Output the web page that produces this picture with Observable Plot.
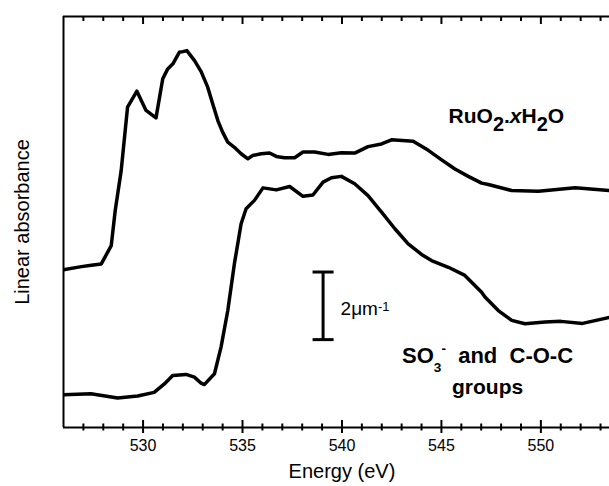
<!DOCTYPE html>
<html>
<head>
<meta charset="utf-8">
<script src="https://cdn.jsdelivr.net/npm/d3@7"></script>
<script src="https://cdn.jsdelivr.net/npm/@observablehq/plot@0.6"></script>
<style>
html, body { margin: 0; padding: 0; background: #fff; }
</style>
</head>
<body>
<div id="chart"></div>
<script>
// RuO2.xH2O spectrum (Energy in eV, linear absorbance in µm^-1, arbitrary offset)
const ruEnergy = [526.0, 526.9, 527.4, 527.9, 528.4, 528.6, 528.9, 529.22, 529.69, 530.15, 530.65, 530.99, 531.24, 531.5, 531.82, 532.0, 532.2, 532.58, 532.92, 533.25, 533.5, 533.76, 534.0, 534.26, 534.59, 534.93, 535.27, 535.52, 535.94, 536.36, 536.7, 537.11, 537.62, 538.04, 538.63, 539.3, 539.97, 540.64, 541.31, 541.99, 542.49, 543.58, 544.34, 545.01, 545.68, 546.35, 547.02, 547.36, 548.53, 549.88, 551.72, 553.45];
const ruAbs    = [4.67, 4.76, 4.80, 4.84, 5.38, 6.42, 7.60, 9.48, 9.95, 9.38, 9.16, 10.32, 10.61, 10.76, 11.10, 11.12, 11.15, 10.86, 10.53, 10.07, 9.58, 9.08, 8.74, 8.44, 8.29, 8.10, 7.95, 8.05, 8.10, 8.12, 8.02, 7.98, 7.98, 8.15, 8.15, 8.08, 8.13, 8.12, 8.31, 8.39, 8.51, 8.47, 8.20, 7.92, 7.65, 7.43, 7.23, 7.19, 7.01, 6.99, 7.09, 7.01];

// SO3- and C-O-C groups spectrum
const soEnergy = [526.0, 527.38, 528.72, 529.73, 530.56, 531.07, 531.49, 532.16, 532.58, 532.92, 533.08, 533.59, 533.92, 534.26, 534.59, 534.93, 535.18, 535.6, 536.03, 536.7, 537.37, 538.04, 538.54, 539.05, 539.47, 539.97, 540.64, 541.31, 541.99, 542.66, 543.33, 544.0, 544.5, 545.35, 546.18, 546.52, 547.02, 547.19, 547.86, 548.53, 549.2, 550.21, 551.0, 552.1, 553.45];
const soAbs    = [0.97, 1.00, 0.87, 0.93, 1.04, 1.29, 1.54, 1.57, 1.49, 1.31, 1.27, 1.59, 2.38, 3.46, 4.84, 6.03, 6.47, 6.72, 7.09, 7.03, 7.13, 6.84, 6.88, 7.26, 7.39, 7.43, 7.21, 6.86, 6.37, 5.88, 5.43, 5.12, 4.94, 4.74, 4.50, 4.30, 4.00, 3.86, 3.46, 3.17, 3.07, 3.12, 3.14, 3.08, 3.26];

// Axis
const xDomain = [526, 553.45];
const yDomain = [0, 12.16];
const majorTicks = [530, 535, 540, 545, 550];
const minorTicks = d3.range(527, 554).filter(d => d % 5 !== 0);
const xTitle = "Energy (eV)";
const yTitle = "Linear absorbance";

// Scale bar: 2 µm^-1
const scaleBarEnergy = [539.05];
const scaleBarFrom = [2.6];
const scaleBarTo = [4.6];

// Annotation texts
const ruLabel = "RuO2.xH2O";
const soLabel1 = "SO3- and C-O-C";
const soLabel2 = "groups";
const barLabel = "2μm-1";

const font = "'Liberation Sans', Arial, Helvetica, sans-serif";

const W = 609, H = 486, MT = 16, MB = 59, ML = 63, MR = 0;
const innerH = H - MT - MB;

const ruData = ruEnergy.map((e, i) => ({E: e, A: ruAbs[i]}));
const soData = soEnergy.map((e, i) => ({E: e, A: soAbs[i]}));
const barData = scaleBarEnergy.map((e, i) => ({E: e, from: scaleBarFrom[i], to: scaleBarTo[i]}));
const capData = barData.flatMap(d => [{E: d.E, A: d.from}, {E: d.E, A: d.to}]);

const capSymbol = { draw(ctx) { ctx.moveTo(-10.5, 0); ctx.lineTo(10.5, 0); } };

const plot = Plot.plot({
  width: W,
  height: H,
  marginTop: MT,
  marginBottom: MB,
  marginLeft: ML,
  marginRight: MR,
  style: {fontFamily: font, background: "white", color: "black", overflow: "visible"},
  x: {domain: xDomain, label: null, axis: null},
  y: {domain: yDomain, label: null, axis: null},
  marks: [
    // bottom ticks crossing the axis line
    Plot.ruleX(minorTicks, {x: d => d, insetTop: innerH - 3.5, insetBottom: -3.5, stroke: "black", strokeWidth: 2}),
    Plot.ruleX(majorTicks, {x: d => d, insetTop: innerH - 7, insetBottom: -6, stroke: "black", strokeWidth: 2}),
    // top ticks (inward)
    Plot.ruleX(minorTicks, {x: d => d, insetTop: 0, insetBottom: innerH - 5, stroke: "black", strokeWidth: 2}),
    Plot.ruleX(majorTicks, {x: d => d, insetTop: 0, insetBottom: innerH - 8, stroke: "black", strokeWidth: 2}),
    // tick labels
    Plot.text(majorTicks, {x: d => d, text: d => String(d), frameAnchor: "bottom", lineAnchor: "middle", textAnchor: "middle", dy: 18.6, fontSize: 16, fill: "black"}),
    // frame (left, top, bottom)
    Plot.ruleY([yDomain[1]], {stroke: "black", strokeWidth: 2}),
    Plot.ruleY([yDomain[0]], {stroke: "black", strokeWidth: 2}),
    Plot.ruleX([xDomain[0]], {stroke: "black", strokeWidth: 2}),
    // spectra
    Plot.line(ruData, {x: "E", y: "A", stroke: "black", strokeWidth: 3.5, strokeLinejoin: "round", clip: true}),
    Plot.line(soData, {x: "E", y: "A", stroke: "black", strokeWidth: 3.5, strokeLinejoin: "round", clip: true}),
    // scale bar
    Plot.ruleX(barData, {x: "E", y1: "from", y2: "to", stroke: "black", strokeWidth: 3}),
    Plot.dot(capData, {x: "E", y: "A", symbol: capSymbol, stroke: "black", strokeWidth: 3, r: 5}),
    // annotations
    Plot.text([barLabel], {x: () => 539.93, y: () => 3.52, text: d => d, textAnchor: "start", lineAnchor: "middle", fontSize: 19, fill: "black"}),
    Plot.text([ruLabel], {x: () => 545.36, y: () => 9.2, text: d => d, textAnchor: "start", lineAnchor: "middle", fontSize: 21, fontWeight: "bold", fill: "black"}),
    Plot.text([soLabel1], {x: () => 547.32, y: () => 2.12, text: d => d, textAnchor: "middle", lineAnchor: "middle", fontSize: 22, fontWeight: "bold", fill: "black"}),
    Plot.text([soLabel2], {x: () => 547.32, y: () => 1.20, text: d => d, textAnchor: "middle", lineAnchor: "middle", fontSize: 21, fontWeight: "bold", fill: "black"}),
    // axis titles
    Plot.text([xTitle], {x: () => 540, frameAnchor: "bottom", textAnchor: "middle", lineAnchor: "middle", dy: 44.5, text: d => d, fontSize: 20, fill: "black"}),
    Plot.text([yTitle], {frameAnchor: "left", textAnchor: "middle", lineAnchor: "middle", dx: -41, rotate: -90, text: d => d, fontSize: 20, fill: "black"})
  ]
});

// Rich text: subscripts, superscripts and italics
const rich = {
  [ruLabel]:  {segs: [["RuO"], ["2", "sub"], ["."], ["x", "it"], ["H"], ["2", "sub"], ["O"]], sub: 8, subSize: 0.95},
  [soLabel1]: {segs: [["SO"], ["3", "sub"], ["-", "sup"], ["  and  C-O-C"]], sub: 9, sup: -10, subSize: 0.62, supSize: 0.62},
  [barLabel]: {segs: [["2μm"], ["-1", "sup"]], sup: -4, supSize: 0.68}
};
d3.select(plot).selectAll("text").each(function() {
  const spec = rich[this.textContent];
  if (!spec) return;
  const t = d3.select(this);
  const fs = parseFloat(this.getAttribute("font-size")) || parseFloat(this.parentNode.getAttribute("font-size")) || 20;
  t.text("").style("white-space", "pre").attr("xml:space", "preserve");
  let cur = 0;
  for (const [s, kind] of spec.segs) {
    const target = kind === "sub" ? spec.sub : kind === "sup" ? spec.sup : 0;
    const ts = t.append("tspan").text(s);
    if (target !== cur) ts.attr("dy", target - cur);
    cur = target;
    if (kind === "sub") ts.attr("font-size", fs * spec.subSize);
    if (kind === "sup") ts.attr("font-size", fs * spec.supSize);
    if (kind === "it") ts.attr("font-style", "italic");
  }
});

document.getElementById("chart").appendChild(plot);
</script>
</body>
</html>
